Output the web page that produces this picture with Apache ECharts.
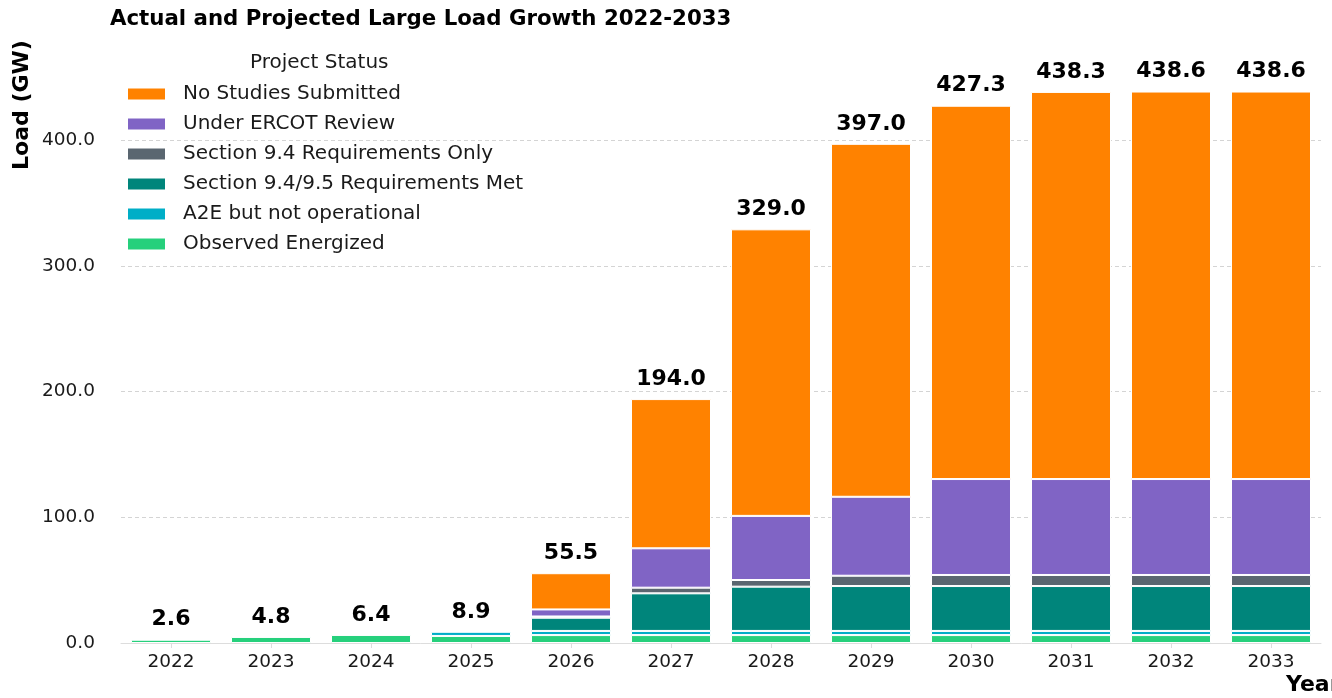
<!DOCTYPE html>
<html>
<head>
<meta charset="utf-8">
<script src="https://cdn.jsdelivr.net/npm/echarts@6/dist/echarts.min.js"></script>
<style>
  html, body { margin: 0; padding: 0; background: #fff; }
  #chart { width: 1332px; height: 698px; }
</style>
</head>
<body>
<div id="chart"></div>
<script>
const years = ['2022','2023','2024','2025','2026','2027','2028','2029','2030','2031','2032','2033'];
const observedEnergized = [2.6, 4.8, 6.4, 5.6, 6.3, 6.3, 6.3, 6.3, 6.3, 6.3, 6.3, 6.3];
const a2eNotOperational = [0, 0, 0, 3.3, 3.3, 3.3, 3.3, 3.3, 3.3, 3.3, 3.3, 3.3];
const sec9495Met = [0, 0, 0, 0, 10.5, 29.9, 35.2, 35.7, 35.7, 35.7, 35.7, 35.7];
const sec94Only = [0, 0, 0, 0, 1.0, 4.5, 5.3, 8.2, 8.8, 8.8, 8.8, 8.8];
const underReview = [0, 0, 0, 0, 5.6, 31.3, 51.0, 62.8, 76.3, 76.3, 76.3, 76.3];
const noStudies = [0, 0, 0, 0, 28.8, 118.7, 227.9, 280.7, 296.9, 307.9, 308.2, 308.2];
const yTicks = [0, 100, 200, 300, 400];

const seriesDefs = [
  { name: 'Observed Energized', data: observedEnergized, color: '#26D07C' },
  { name: 'A2E but not operational', data: a2eNotOperational, color: '#00AEC7' },
  { name: 'Section 9.4/9.5 Requirements Met', data: sec9495Met, color: '#00857B' },
  { name: 'Section 9.4 Requirements Only', data: sec94Only, color: '#5A6670' },
  { name: 'Under ERCOT Review', data: underReview, color: '#8064C5' },
  { name: 'No Studies Submitted', data: noStudies, color: '#FF8200' }
];

const totals = years.map((_, i) =>
  Math.round(seriesDefs.reduce((s, d) => s + d.data[i], 0) * 10) / 10);

const FONT = "'DejaVu Sans', sans-serif";
const chart = echarts.init(document.getElementById('chart'), null, { renderer: 'canvas' });

const series = seriesDefs.map(d => ({
  name: d.name,
  type: 'bar',
  stack: 'load',
  barWidth: '80%',
  data: d.data.map(v => (v === 0 ? '-' : v)),
  itemStyle: { color: d.color, borderColor: '#ffffff', borderWidth: 1 },
  emphasis: { disabled: true }
}));

series.push({
  name: 'totals',
  type: 'scatter',
  data: totals,
  symbolSize: 0,
  silent: true,
  itemStyle: { opacity: 1, color: '#000000' },
  label: {
    show: true,
    position: 'top',
    distance: 9,
    formatter: p => p.value.toFixed(1),
    fontFamily: FONT,
    fontWeight: 'bold',
    fontSize: 22,
    color: '#000000',
    opacity: 1
  },
  z: 10
});

chart.setOption({
  animation: false,
  backgroundColor: '#ffffff',
  title: {
    text: 'Actual and Projected Large Load Growth 2022-2033',
    left: 105,
    top: 4,
    textStyle: { fontFamily: FONT, fontWeight: 'bold', fontSize: 21.3, color: '#000' }
  },
  legend: {
    orient: 'vertical',
    left: 126,
    top: 84,
    padding: 0,
    itemGap: 10,
    itemWidth: 39,
    itemHeight: 13,
    icon: 'rect',
    selectedMode: false,
    data: ['No Studies Submitted', 'Under ERCOT Review', 'Section 9.4 Requirements Only',
           'Section 9.4/9.5 Requirements Met', 'A2E but not operational', 'Observed Energized'],
    textStyle: { fontFamily: FONT, fontSize: 20, color: '#1a1a1a', lineHeight: 20, padding: [0, 0, 0, 12] }
  },
  grid: { left: 121, right: 11, top: 64, bottom: 55, containLabel: false },
  xAxis: {
    type: 'category',
    data: years,
    axisLine: { show: true, lineStyle: { color: '#dddddd', width: 1 } },
    axisTick: { show: true, alignWithLabel: true, length: 5, lineStyle: { color: '#dddddd' } },
    axisLabel: { fontFamily: FONT, fontSize: 18.5, color: '#1a1a1a', margin: 10 },
    splitLine: { show: false }
  },
  yAxis: {
    type: 'value',
    min: 0,
    max: 460.5,
    interval: 100,
    axisLine: { show: false },
    axisTick: { show: false },
    axisLabel: {
      fontFamily: FONT, fontSize: 18.5, color: '#1a1a1a', margin: 26,
      showMaxLabel: false,
      formatter: v => (yTicks.indexOf(v) >= 0 ? v.toFixed(1) : '')
    },
    splitLine: {
      show: true, showMinLine: false, showMaxLine: false,
      lineStyle: { color: '#d4d4d4', type: [4, 3], width: 1 }
    }
  },
  graphic: [
    {
      type: 'text',
      left: 250, top: 53,
      style: { text: 'Project Status', font: "20px 'DejaVu Sans'", fill: '#1a1a1a' }
    },
    {
      type: 'text',
      x: 22, y: 105,
      rotation: Math.PI / 2,
      style: { text: 'Load (GW)', font: "bold 22px 'DejaVu Sans'", fill: '#000', align: 'center', verticalAlign: 'middle' }
    },
    {
      type: 'text',
      left: 1286, top: 674,
      style: { text: 'Year', font: "bold 22px 'DejaVu Sans'", fill: '#000' }
    }
  ],
  series: series
});
</script>
</body>
</html>
